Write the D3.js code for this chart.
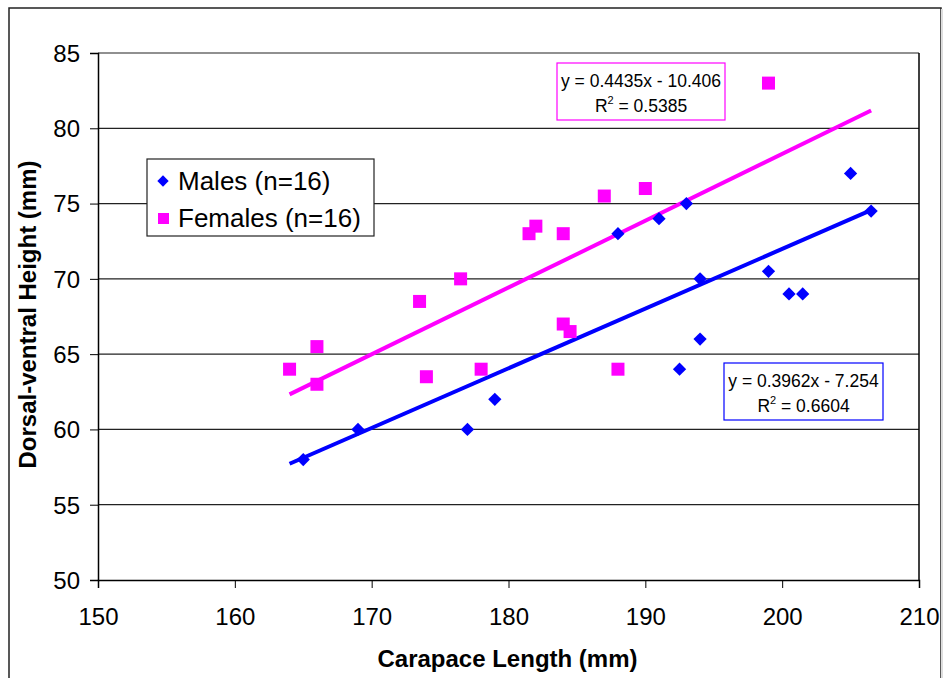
<!DOCTYPE html>
<html>
<head>
<meta charset="utf-8">
<script src="https://cdn.jsdelivr.net/npm/d3@7"></script>
<style>
body{margin:0;background:#fff;font-family:Arial,"Liberation Sans",sans-serif}
.axis text{font-family:Arial,"Liberation Sans",sans-serif;font-size:24px;fill:#000}
</style>
</head>
<body>
<div class="chart"></div>
<script>
// carapace length (x) and dorsal-ventral height (y)
const malesX=[165,169,177,179,188,191,193,194,194,192.5,199,200.5,201.5,205,206.5]
const malesY=[58,60,60,62,73,74,75,70,66,64,70.5,69,69,77,74.5]
const femalesX=[164,166,166,173.5,174,176.5,178,181.5,182,184,184,184.5,188,187,190,199]
const femalesY=[64,65.5,63,68.5,63.5,70,64,73,73.5,73,67,66.5,64,75.5,76,83]
const trendRange=[164,206.5]
const malesFit={slope:0.3962,intercept:-7.254,text:'y = 0.3962x - 7.254',r2:'0.6604'}
const femalesFit={slope:0.4435,intercept:-10.406,text:'y = 0.4435x - 10.406',r2:'0.5385'}
const xTicks=[150,160,170,180,190,200,210]
const yTicks=[50,55,60,65,70,75,80,85]

const males=malesX.map((x,i)=>({x:x,y:malesY[i]}))
const females=femalesX.map((x,i)=>({x:x,y:femalesY[i]}))

const margin=({top:53,right:24,bottom:98,left:98})
const W=943,H=678
const width=W-margin.left-margin.right,
	height=H-margin.top-margin.bottom

const blue='#0000ff', pink='#ff00ff'

let xScale=d3.scaleLinear().domain([150,210]).range([0,width])
let yScale=d3.scaleLinear().domain([50,85]).range([height,0])

let root=d3.select('.chart').append('svg')
	.attr('width',W).attr('height',H)

// outer chart border (only left/top visible in frame)
root.append('rect')
	.attr('x',9).attr('y',8).attr('width',932).attr('height',700)
	.attr('fill','none').attr('stroke','#222').attr('stroke-width',1.5)
root.append('line')
	.attr('x1',942).attr('x2',942).attr('y1',9).attr('y2',H)
	.attr('stroke','#ddd').attr('stroke-width',2)

let svg=root.append('g')
	.attr('transform','translate('+margin.left+','+margin.top+')')

// gridlines
svg.selectAll('.grid')
	.data(yTicks.filter(d=>d>50))
	.enter()
	.append('line')
	.attr('x1',0).attr('x2',width)
	.attr('y1',d=>yScale(d)).attr('y2',d=>yScale(d))
	.attr('stroke','#222').attr('stroke-width',1.2)

// right border of plot area
svg.append('line')
	.attr('x1',width).attr('x2',width).attr('y1',0).attr('y2',height)
	.attr('stroke','#000').attr('stroke-width',1.5)

const xAxis=d3.axisBottom(xScale).tickValues(xTicks).tickSize(8).tickPadding(20)
svg.append('g')
	.attr('class','axis x-axis')
	.attr('transform',`translate(0,${height})`)
	.call(xAxis)
	.call(g=>g.select('.domain').attr('stroke','#000').attr('stroke-width',1.5))

const yAxis=d3.axisLeft(yScale).tickValues(yTicks).tickSize(8).tickPadding(10)
svg.append('g')
	.attr('class','axis y-axis')
	.call(yAxis)
	.call(g=>g.select('.domain').attr('stroke','#000').attr('stroke-width',1.5))
	.call(g=>g.selectAll('text').attr('dy','0.35em'))

// trendlines
function drawFit(fit,color){
	svg.append('line')
		.attr('x1',xScale(trendRange[0]))
		.attr('y1',yScale(fit.slope*trendRange[0]+fit.intercept))
		.attr('x2',xScale(trendRange[1]))
		.attr('y2',yScale(fit.slope*trendRange[1]+fit.intercept))
		.attr('stroke',color).attr('stroke-width',4)
}
drawFit(malesFit,blue)
drawFit(femalesFit,pink)

// points
svg.selectAll('.male')
	.data(males)
	.enter()
	.append('path')
	.attr('d',d3.symbol(d3.symbolSquare,88))
	.attr('transform',d=>`translate(${xScale(d.x)},${yScale(d.y)}) rotate(45)`)
	.attr('fill',blue)

svg.selectAll('.female')
	.data(females)
	.enter()
	.append('rect')
	.attr('x',d=>xScale(d.x)-6.5)
	.attr('y',d=>yScale(d.y)-6.5)
	.attr('width',13).attr('height',13)
	.attr('fill',pink)

// equation boxes
function eqBox(fit,color,x,y,w){
	const g=root.append('g').attr('transform',`translate(${x},${y})`)
	g.append('rect').attr('width',w).attr('height',57)
		.attr('fill','#fff').attr('stroke',color).attr('stroke-width',1.2)
	g.append('text').attr('x',w/2).attr('y',24).attr('text-anchor','middle')
		.attr('font-size',17.5).text(fit.text)
	const t=g.append('text').attr('x',w/2).attr('y',49).attr('text-anchor','middle')
		.attr('font-size',17.5)
	t.append('tspan').text('R')
	t.append('tspan').attr('dy',-8).attr('font-size',11).text('2')
	t.append('tspan').attr('dy',8).text(' = '+fit.r2)
}
eqBox(femalesFit,pink,557,63,168)
eqBox(malesFit,blue,724,363,159)

// legend
const legend=root.append('g').attr('transform','translate(147,159)')
legend.append('rect').attr('width',227).attr('height',77)
	.attr('fill','#fff').attr('stroke','#222').attr('stroke-width',1.2)
legend.append('path')
	.attr('d',d3.symbol(d3.symbolSquare,64))
	.attr('transform','translate(16,22) rotate(45)')
	.attr('fill',blue)
legend.append('rect').attr('x',11).attr('y',54).attr('width',11).attr('height',11).attr('fill',pink)
legend.append('text').attr('x',31).attr('y',31).attr('font-size',26).text('Males (n=16)')
legend.append('text').attr('x',31).attr('y',68).attr('font-size',26).text('Females (n=16)')

// axis titles
root.append('text')
	.attr('x',margin.left+width/2-1).attr('y',667)
	.attr('text-anchor','middle').attr('font-size',24).attr('font-weight','bold')
	.text('Carapace Length (mm)')
root.append('text')
	.attr('transform',`translate(36,${margin.top+height/2-2}) rotate(-90)`)
	.attr('text-anchor','middle').attr('font-size',24).attr('font-weight','bold')
	.text('Dorsal-ventral Height (mm)')
</script>
</body>
</html>
